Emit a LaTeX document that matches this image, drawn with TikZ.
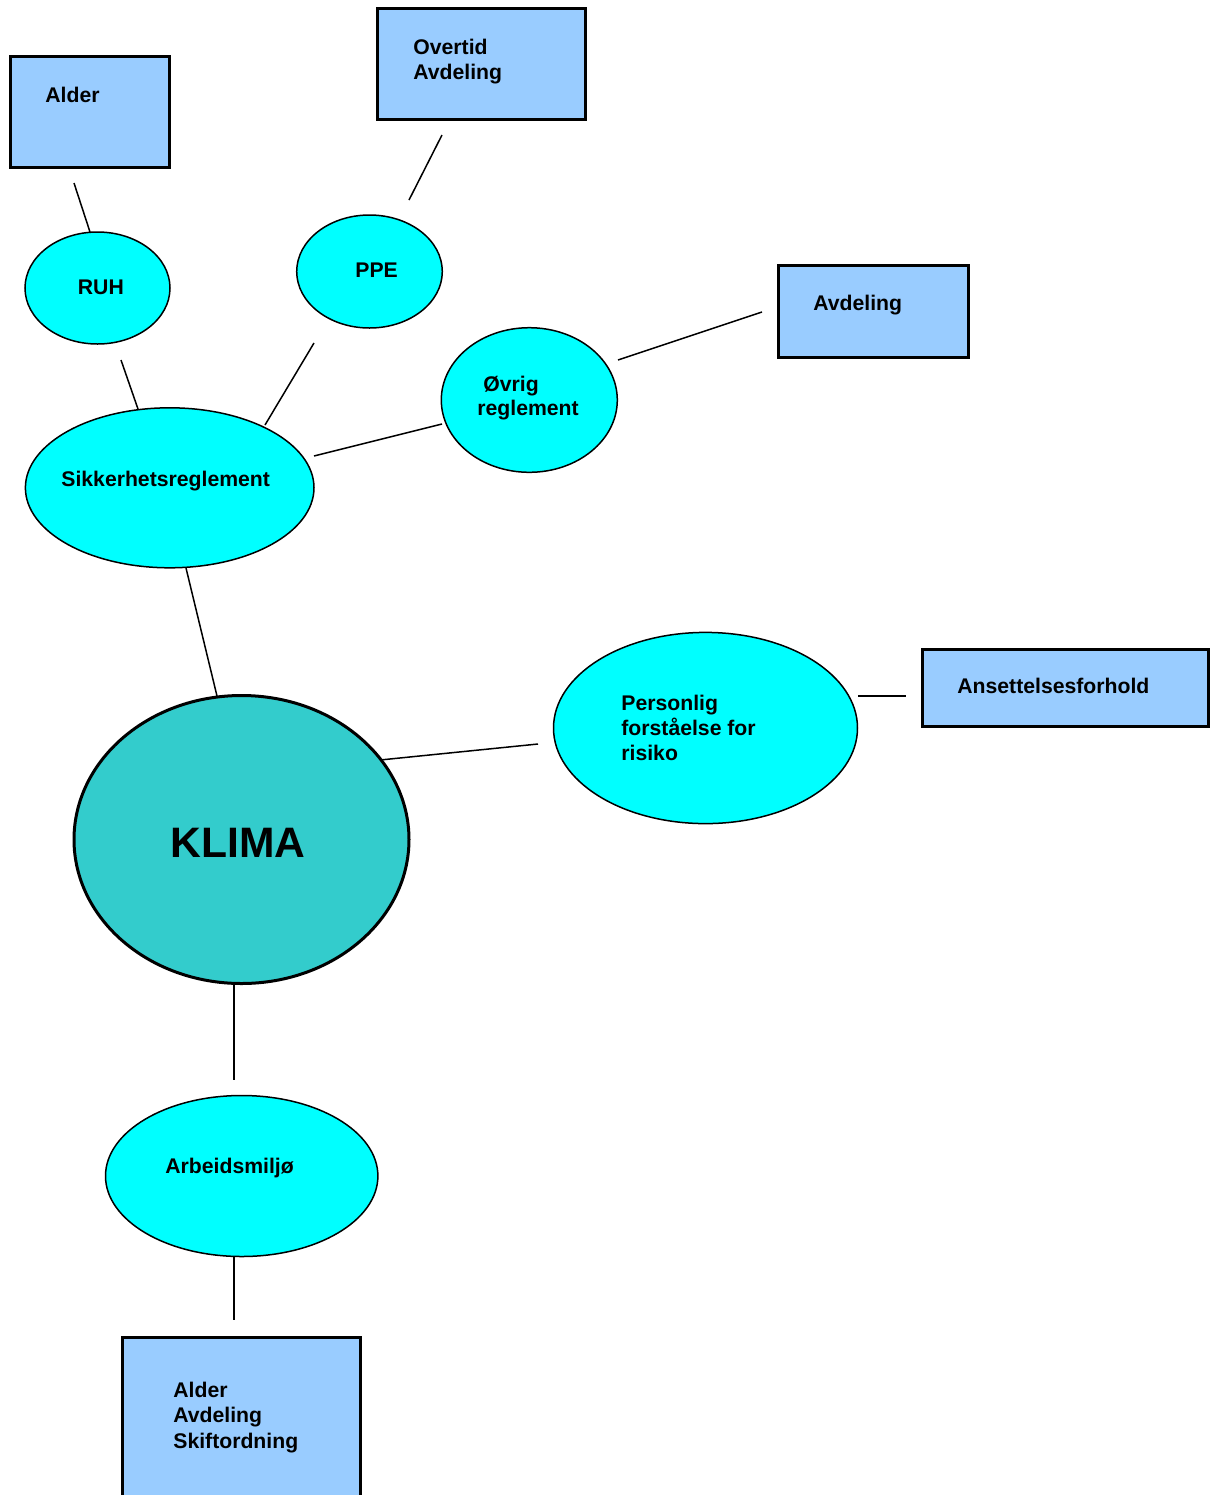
\documentclass[tikz,border=0pt]{standalone}
\usepackage{fontspec}
\setmainfont{Liberation Sans}
\usetikzlibrary{shapes.geometric}
\definecolor{boxblue}{HTML}{99CCFF}
\definecolor{cyanfill}{HTML}{00FFFF}
\definecolor{klimafill}{HTML}{33CCCC}
\begin{document}
\begin{tikzpicture}[x=0.5pt,y=-0.5pt,
  box/.style={rectangle,draw=black,line width=1.5pt,fill=boxblue,inner sep=0pt},
  oval/.style={ellipse,draw=black,line width=0.75pt,fill=cyanfill,inner sep=0pt},
  lbl/.style={anchor=base west,inner sep=0pt,font=\fontsize{10.6}{12.5}\selectfont\bfseries},
  conn/.style={line width=0.75pt}]
\useasboundingbox (0,0) rectangle (1212,1495);
\clip (0,0) rectangle (1212,1495);
% boxes
\node[box,minimum width=79.75pt,minimum height=55.75pt] (alderbox) at (89.75,111.75) {};
\node[box,minimum width=104pt,minimum height=55.75pt] (overbox) at (481.5,63.75) {};
\node[box,minimum width=95pt,minimum height=46pt] (avdbox) at (873.5,311.5) {};
\node[box,minimum width=143pt,minimum height=38.5pt] (ansbox) at (1065.5,688) {};
\node[box,minimum width=119pt,minimum height=91.25pt] (botbox) at (241.5,1428.75) {};
% ovals
\node[oval,minimum width=72.5pt,minimum height=56pt] (ruh) at (97.5,288) {};
\node[oval,minimum width=72.8pt,minimum height=56.5pt] (ppe) at (369.5,271.5) {};
\node[oval,minimum width=88pt,minimum height=72.3pt] (ovrig) at (529.3,400) {};
\node[oval,minimum width=144.3pt,minimum height=80pt] (sikk) at (169.7,487.8) {};
\node[ellipse,draw=black,line width=1.5pt,fill=klimafill,inner sep=0pt,minimum width=167.5pt,minimum height=144pt] (klima) at (241.5,839.5) {};
\node[oval,minimum width=152pt,minimum height=95.6pt] (pers) at (705.5,728) {};
\node[oval,minimum width=136.2pt,minimum height=80.5pt] (arb) at (241.7,1176) {};
% connector ends
\coordinate (c1a) at (74,183);   \coordinate (c1b) at (90,232);
\coordinate (c2a) at (442,135);  \coordinate (c2b) at (409,200);
\coordinate (c3a) at (314,343);  \coordinate (c3b) at (265,425);
\coordinate (c4a) at (121,360);  \coordinate (c4b) at (138,409);
\coordinate (c5a) at (314,456);  \coordinate (c5b) at (442,424);
\coordinate (c6a) at (618,360);  \coordinate (c6b) at (762,312);
\coordinate (c7a) at (186,568);  \coordinate (c7b) at (217,696);
\coordinate (c8a) at (380,760);  \coordinate (c8b) at (538,744);
\coordinate (c9a) at (858,696);  \coordinate (c9b) at (906,696);
\coordinate (c10a) at (234,985); \coordinate (c10b) at (234,1080);
\coordinate (c11a) at (234,1256); \coordinate (c11b) at (234,1320);
\draw[conn] (c1a) -- (c1b);
\draw[conn] (c2a) -- (c2b);
\draw[conn] (c3a) -- (c3b);
\draw[conn] (c4a) -- (c4b);
\draw[conn] (c5a) -- (c5b);
\draw[conn] (c6a) -- (c6b);
\draw[conn] (c7a) -- (c7b);
\draw[conn] (c8a) -- (c8b);
\draw[conn] (c9a) -- (c9b);
\draw[conn] (c10a) -- (c10b);
\draw[conn] (c11a) -- (c11b);
% labels
\node[lbl] (t1) at (45,102) {Alder};
\node[lbl] (t2) at (413,54) {Overtid};
\node[lbl] (t3) at (413,79) {Avdeling};
\node[lbl] (t4) at (77.5,294) {RUH};
\node[lbl] (t5) at (355,277) {PPE};
\node[lbl] (t6) at (483,391) {Øvrig};
\node[lbl] (t7) at (477,415) {reglement};
\node[lbl] (t8) at (61,486) {Sikkerhetsreglement};
\node[lbl] (t9) at (813,310) {Avdeling};
\node[lbl] (t10) at (957,693) {Ansettelsesforhold};
\node[lbl] (t11) at (621,710) {Personlig};
\node[lbl] (t12) at (621,735) {forståelse for};
\node[lbl] (t13) at (621,760) {risiko};
\node[anchor=base west,inner sep=0pt,font=\fontsize{21.3}{25}\selectfont\bfseries] (t14) at (170,857) {KLIMA};
\node[lbl] (t15) at (165,1173) {Arbeidsmiljø};
\node[lbl] (t16) at (173,1397) {Alder};
\node[lbl] (t17) at (173,1422) {Avdeling};
\node[lbl] (t18) at (173,1448) {Skiftordning};
\end{tikzpicture}
\end{document}
